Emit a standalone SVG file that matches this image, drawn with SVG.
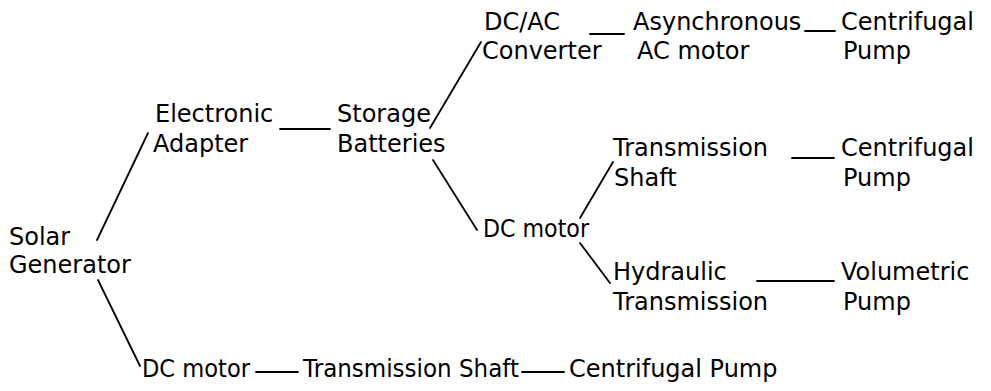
<svg xmlns="http://www.w3.org/2000/svg" width="991" height="391" viewBox="0 0 991 391">
<style>
text{font-family:"DejaVu Sans","Liberation Sans",sans-serif;font-size:24px;fill:#000}
.c line{stroke:#000;stroke-width:1.8;stroke-linecap:round}
</style>
<rect width="991" height="391" fill="#fff"/>
<g id="solar"><text x="9" y="245">Solar</text><text x="9" y="273">Generator</text></g>
<g id="adapter"><text x="155" y="122">Electronic</text><text x="153" y="152">Adapter</text></g>
<g id="batteries"><text x="337" y="122">Storage</text><text x="337" y="152">Batteries</text></g>
<g id="converter"><text x="484" y="30">DC/AC</text><text x="482" y="59">Converter</text></g>
<g id="acmotor"><text x="633" y="30">Asynchronous</text><text x="637" y="59">AC motor</text></g>
<g id="pump1"><text x="841" y="30">Centrifugal</text><text x="843" y="59">Pump</text></g>
<g id="dcmotor1"><text x="483" y="237" textLength="106" lengthAdjust="spacingAndGlyphs">DC motor</text></g>
<g id="shaft1"><text x="613" y="156">Transmission</text><text x="614" y="186">Shaft</text></g>
<g id="pump2"><text x="841" y="156">Centrifugal</text><text x="843" y="186">Pump</text></g>
<g id="hydraulic"><text x="613" y="280">Hydraulic</text><text x="613" y="310">Transmission</text></g>
<g id="pump3"><text x="841" y="280">Volumetric</text><text x="843" y="310">Pump</text></g>
<g id="dcmotor2"><text x="142" y="377" textLength="108" lengthAdjust="spacingAndGlyphs">DC motor</text></g>
<g id="shaft2"><text x="303" y="377" textLength="216" lengthAdjust="spacingAndGlyphs">Transmission Shaft</text></g>
<g id="pump4"><text x="569" y="377">Centrifugal Pump</text></g>
<g class="c" id="connectors">
<line x1="97" y1="240" x2="148" y2="133"/>
<line x1="98" y1="280" x2="140" y2="366"/>
<line x1="280" y1="129" x2="330" y2="129"/>
<line x1="430" y1="128" x2="481" y2="42"/>
<line x1="433" y1="160" x2="477" y2="230"/>
<line x1="590" y1="34" x2="624" y2="34"/>
<line x1="805" y1="31" x2="835" y2="31"/>
<line x1="580" y1="218" x2="613" y2="162"/>
<line x1="580" y1="243" x2="610" y2="283"/>
<line x1="792" y1="158" x2="834" y2="158"/>
<line x1="757" y1="281" x2="834" y2="281"/>
<line x1="256" y1="372" x2="298" y2="372"/>
<line x1="522" y1="372" x2="564" y2="372"/>
</g>
</svg>
